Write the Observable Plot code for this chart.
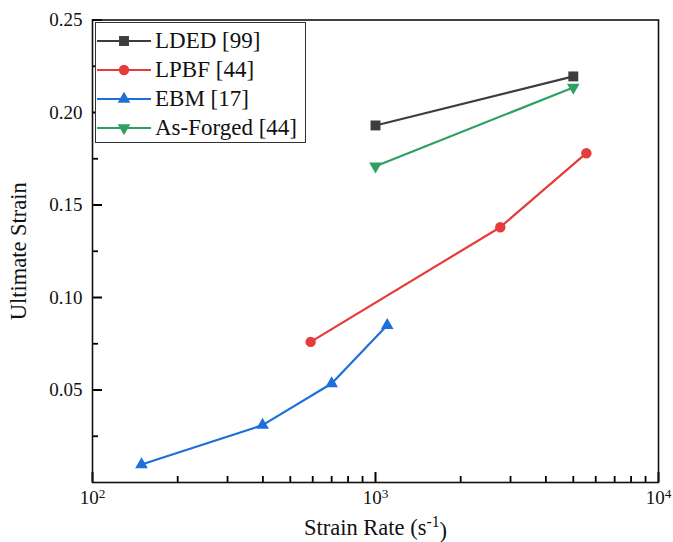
<!DOCTYPE html>
<html>
<head>
<meta charset="utf-8">
<script src="https://cdn.jsdelivr.net/npm/d3@7"></script>
<script src="https://cdn.jsdelivr.net/npm/@observablehq/plot@0.6"></script>
<style>
  html, body { margin: 0; padding: 0; background: #fff; }
  #wrap { position: relative; width: 673px; height: 542px; font-family: "Liberation Serif", "DejaVu Serif", serif; }
  #legend { position: absolute; left: 95px; top: 22px; width: 211px; height: 121px; border: 1.3px solid #333; box-sizing: border-box; background: #fff; padding-top: 3px; }
  .row { display: flex; align-items: center; height: 29px; }
  .row svg { margin-left: 1px; margin-right: 4px; }
  .row span { font-size: 23px; color: #111; }
  svg [aria-label="x-axis label"], svg [aria-label="y-axis label"] { font-size: 22.5px; }
</style>
</head>
<body>
<div id="wrap"></div>
<script>
// ---- data ----
const seriesNames = ["LDED [99]", "LPBF [44]", "EBM [17]", "As-Forged [44]"];
const seriesColors = ["#3d3d3d", "#e63b3b", "#1f6fd8", "#2ea061"];
const seriesSymbols = ["square", "circle", "triangle", "triangle-down"];
const seriesRadius = [5.6, 5.2, 4.7, 4.7];

const ldedRate = [1000, 5000];
const ldedStrain = [0.193, 0.2195];
const lpbfRate = [590, 2760, 5560];
const lpbfStrain = [0.076, 0.138, 0.178];
const ebmRate = [149, 399, 700, 1100];
const ebmStrain = [0.0097, 0.031, 0.0535, 0.085];
const forgedRate = [1000, 5000];
const forgedStrain = [0.171, 0.2135];

const xMajor = [100, 1000, 10000];
const xMinor = [200, 300, 400, 500, 600, 700, 800, 900, 2000, 3000, 4000, 5000, 6000, 7000, 8000, 9000];
const yMajor = [0.05, 0.10, 0.15, 0.20, 0.25];
const yMinor = [0.025, 0.075, 0.125, 0.175, 0.225];

// ---- layout ----
const W = 673, H = 542, mL = 92, mR = 15, mT = 19.5, mB = 60;
const innerW = W - mL - mR, innerH = H - mT - mB;

// ---- build tables ----
const seriesData = [[ldedRate, ldedStrain], [lpbfRate, lpbfStrain], [ebmRate, ebmStrain], [forgedRate, forgedStrain]]
  .map(([xs, ys], i) => xs.map((x, j) => ({series: seriesNames[i], rate: x, strain: ys[j]})));

const seriesMarks = seriesData.flatMap((data, i) => [
  Plot.line(data, { x: "rate", y: "strain", stroke: seriesColors[i], strokeWidth: 2.2 }),
  Plot.dot(data, { x: "rate", y: "strain", fill: seriesColors[i], r: seriesRadius[i],
    symbol: seriesSymbols[i] === "triangle-down" ? "triangle" : seriesSymbols[i],
    rotate: seriesSymbols[i] === "triangle-down" ? 180 : 0 })
]);

const plot = Plot.plot({
  width: W,
  height: H,
  marginLeft: mL,
  marginRight: mR,
  marginTop: mT,
  marginBottom: mB,
  style: { fontFamily: "'Liberation Serif', 'DejaVu Serif', serif", fontSize: "19px", color: "#111", background: "#fff" },
  x: { type: "log", domain: [100, 10000] },
  y: { domain: [0, 0.25] },
  marks: [
    Plot.axisX({ ticks: xMajor, tickSize: 0, tickPadding: 8, tickFormat: d => String(d),
      label: "Strain Rate (s-1)", labelAnchor: "center", labelArrow: "none", labelOffset: 52, fontSize: 19 }),
    Plot.axisY({ ticks: yMajor, tickSize: 0, tickPadding: 10, tickFormat: d3.format(".2f"),
      label: "Ultimate Strain", labelAnchor: "center", labelArrow: "none", labelOffset: 82, fontSize: 19 }),
    // inward ticks on bottom and left edges
    Plot.tickX(xMajor, { x: d => d, insetTop: innerH - 10, stroke: "#000", strokeWidth: 2 }),
    Plot.tickX(xMinor, { x: d => d, insetTop: innerH - 6, stroke: "#000", strokeWidth: 1.8 }),
    Plot.tickY(yMajor, { y: d => d, insetRight: innerW - 10, stroke: "#000", strokeWidth: 2 }),
    Plot.tickY(yMinor, { y: d => d, insetRight: innerW - 6, stroke: "#000", strokeWidth: 1.8 }),
    Plot.frame({ stroke: "#111", strokeWidth: 1.6 }),
    ...seriesMarks
  ]
});

// superscript tick labels 10^n
d3.select(plot).selectAll('[aria-label="x-axis tick label"] text').each(function() {
  if (!this.textContent) return;
  const v = +this.textContent;
  const e = Math.round(Math.log10(v));
  const t = d3.select(this);
  t.text(null);
  t.append("tspan").text("10");
  t.append("tspan").attr("dy", "-0.45em").attr("font-size", "0.7em").text(e);
});
// superscript in x label
d3.select(plot).selectAll('[aria-label="x-axis label"] text').each(function() {
  const t = d3.select(this);
  t.text(null);
  t.append("tspan").text("Strain Rate (s");
  t.append("tspan").attr("dy", "-0.45em").attr("font-size", "0.7em").text("-1");
  t.append("tspan").attr("dy", "0.45em").text(")");
});

const wrap = document.getElementById("wrap");
wrap.appendChild(plot);

// legend (inside plot, top-left)
const legend = document.createElement("div");
legend.id = "legend";
seriesNames.forEach((name, i) => {
  const row = document.createElement("div");
  row.className = "row";
  const s = d3.create("svg").attr("width", 54).attr("height", 20);
  s.append("line").attr("x1", 0).attr("x2", 54).attr("y1", 10).attr("y2", 10)
    .attr("stroke", seriesColors[i]).attr("stroke-width", 2);
  const sym = { square: d3.symbolSquare, circle: d3.symbolCircle, triangle: d3.symbolTriangle, "triangle-down": d3.symbolTriangle }[seriesSymbols[i]];
  const r = seriesRadius[i];
  s.append("path").attr("d", d3.symbol(sym, Math.PI * r * r)())
    .attr("transform", `translate(27,10)${i === 3 ? " rotate(180)" : ""}`)
    .attr("fill", seriesColors[i]);
  row.appendChild(s.node());
  const label = document.createElement("span");
  label.textContent = name;
  row.appendChild(label);
  legend.appendChild(row);
});
wrap.appendChild(legend);
</script>
</body>
</html>
